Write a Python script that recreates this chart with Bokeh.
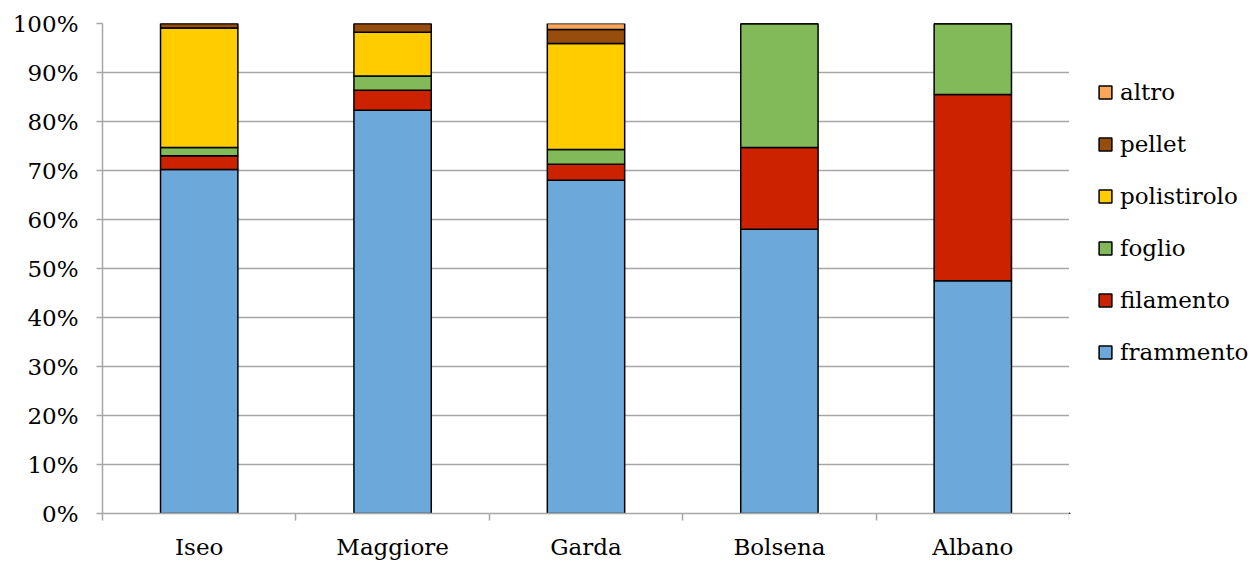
from bokeh.plotting import figure
from bokeh.models import ColumnDataSource, FixedTicker, NumeralTickFormatter, Legend, LegendItem
from bokeh.layouts import row
from bokeh.embed import file_html
from bokeh.resources import INLINE

lakes = ["Iseo", "Maggiore", "Garda", "Bolsena", "Albano"]
frammento = [0.702, 0.823, 0.680, 0.580, 0.475]
filamento = [0.028, 0.041, 0.033, 0.167, 0.380]
foglio = [0.017, 0.029, 0.030, 0.253, 0.145]
polistirolo = [0.244, 0.089, 0.216, 0.0, 0.0]
pellet = [0.009, 0.018, 0.029, 0.0, 0.0]
altro = [0.0, 0.0, 0.012, 0.0, 0.0]

series = ["frammento", "filamento", "foglio", "polistirolo", "pellet", "altro"]
colors = ["#6CA9DA", "#CC2200", "#82BA5A", "#FFCC00", "#974D0B", "#FAA659"]

FONT = "DejaVu Serif"
FS = "23px"

src = ColumnDataSource(dict(
    x=[i + 0.5 for i in range(len(lakes))],
    frammento=frammento, filamento=filamento, foglio=foglio,
    polistirolo=polistirolo, pellet=pellet, altro=altro,
))

p = figure(width=1069, height=562, output_backend="svg", toolbar_location=None,
           x_range=(0, len(lakes)), y_range=(0, 1),
           min_border_left=102, min_border_top=23, min_border_right=0, min_border_bottom=48)
p.outline_line_color = None

renderers = p.vbar_stack(series, x="x", width=0.4, source=src, color=colors,
                         line_color="black", line_width=1.5)

# axes
p.xaxis.ticker = FixedTicker(ticks=[i + 0.5 for i in range(len(lakes))],
                             minor_ticks=list(range(len(lakes) + 1)))
p.xaxis.major_label_overrides = {i + 0.5: name for i, name in enumerate(lakes)}
p.xaxis.major_tick_out = 0
p.xaxis.major_tick_in = 0
p.xaxis.minor_tick_out = 7
p.xaxis.minor_tick_in = 0
p.xaxis.minor_tick_line_color = "#a6a6a6"
p.xaxis.minor_tick_line_width = 1.5
p.xaxis.axis_line_color = "#a6a6a6"
p.xaxis.axis_line_width = 1.5
p.xaxis.major_label_standoff = 13
p.xgrid.grid_line_color = None

p.yaxis.ticker = FixedTicker(ticks=[i / 10 for i in range(11)])
p.yaxis.formatter = NumeralTickFormatter(format="0%")
p.yaxis.major_tick_out = 6
p.yaxis.major_tick_in = 0
p.yaxis.minor_tick_line_color = None
p.yaxis.major_tick_line_color = "#a6a6a6"
p.yaxis.major_tick_line_width = 1.5
p.yaxis.axis_line_color = "#a6a6a6"
p.yaxis.axis_line_width = 1.5
p.yaxis.major_label_standoff = 18
p.ygrid.grid_line_color = "#a6a6a6"
p.ygrid.grid_line_width = 1.5
p.ygrid.ticker = FixedTicker(ticks=[i / 10 for i in range(11)])

for ax in (p.xaxis[0], p.yaxis[0]):
    ax.major_label_text_font = FONT
    ax.major_label_text_font_size = FS
    ax.major_label_text_color = "black"

# legend panel (separate figure at the right; its frame is aligned with the main frame)
lg = figure(width=181, height=562, output_backend="svg", toolbar_location=None,
            x_range=(0, 1), y_range=(0, 1), min_border_left=0, min_border_top=23,
            min_border_right=0, min_border_bottom=48)
lg.axis.visible = False
lg.grid.visible = False
lg.outline_line_color = None
offscreen = ColumnDataSource(dict(x=[-50.0], top=[-50.0], bottom=[-60.0]))
lg_renderers = [lg.vbar(x="x", top="top", bottom="bottom", width=0.1, source=offscreen,
                        fill_color=c, line_color="black", line_width=1.5) for c in colors]
items = [LegendItem(label=s, renderers=[r]) for s, r in zip(series, lg_renderers)][::-1]
legend = Legend(items=items, location=(28, 148), orientation="vertical",
                glyph_width=16, glyph_height=16, label_standoff=7,
                label_height=22, spacing=26, padding=0, margin=0,
                border_line_color=None, background_fill_alpha=0,
                label_text_font=FONT, label_text_font_size=FS, label_text_color="black")
lg.add_layout(legend, "center")

layout = row(p, lg, spacing=0)
open("out.html", "w").write(file_html(layout, INLINE))
